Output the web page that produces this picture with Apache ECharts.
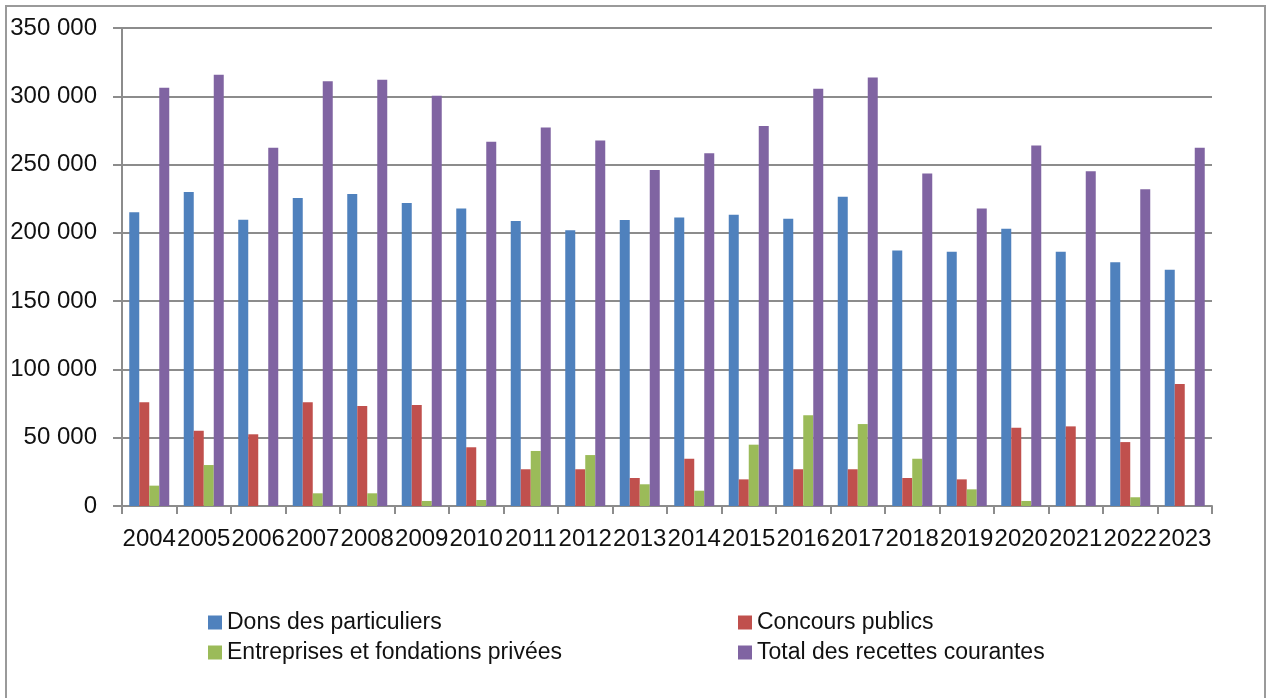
<!DOCTYPE html>
<html>
<head>
<meta charset="utf-8">
<script src="https://cdn.jsdelivr.net/npm/echarts@6/dist/echarts.min.js"></script>
<style>
html,body{margin:0;padding:0;background:#fff;}
#chart{width:1271px;height:698px;}
</style>
</head>
<body>
<div id="chart"></div>
<script>
const years = ['2004','2005','2006','2007','2008','2009','2010','2011','2012','2013','2014','2015','2016','2017','2018','2019','2020','2021','2022','2023'];
const dons = [215000, 230000, 209600, 225500, 228400, 221800, 217900, 208600, 202000, 209400, 211300, 213300, 210300, 226400, 187100, 186200, 203000, 186200, 178400, 173000];
const concours = [75900, 55100, 52500, 75900, 73200, 73900, 43000, 26900, 26900, 20500, 34600, 19500, 26900, 26900, 20500, 19500, 57300, 58300, 46800, 89300];
const entreprises = [14900, 30000, 0, 9300, 9300, 3700, 4400, 40300, 37300, 15900, 11200, 44900, 66400, 60000, 34600, 12200, 3700, 0, 6400, 0];
const total = [306200, 315700, 262300, 311100, 312100, 300400, 266700, 277200, 267700, 246000, 258200, 278200, 305500, 313800, 243500, 217900, 264000, 245200, 232000, 262300];
const seriesNames = ['Dons des particuliers', 'Concours publics', 'Entreprises et fondations privées', 'Total des recettes courantes'];

const FONT = "'Liberation Sans', Arial, sans-serif";
const chart = echarts.init(document.getElementById('chart'), null, {renderer: 'canvas'});

function fmt(v) {
  return String(v).replace(/\B(?=(\d{3})+(?!\d))/g, ' ');
}

const colors = ['#4F81BD', '#C0504D', '#9BBB59', '#8064A2'];
const values = [dons, concours, entreprises, total];

const legendCommon = {
  orient: 'vertical',
  top: 606,
  itemWidth: 14,
  itemHeight: 14,
  itemGap: 7,
  icon: 'rect',
  selectedMode: false,
  textStyle: {fontFamily: FONT, fontSize: 23, color: '#111', lineHeight: 23}
};

chart.setOption({
  animation: false,
  backgroundColor: '#fff',
  color: colors,
  graphic: [{
    type: 'rect',
    shape: {x: 6, y: 6, width: 1259, height: 720},
    style: {fill: 'none', stroke: '#9a9a9a', lineWidth: 2},
    silent: true
  }],
  legend: [
    Object.assign({left: 203, data: [seriesNames[0], seriesNames[2]]}, legendCommon),
    Object.assign({left: 733, data: [seriesNames[1], seriesNames[3]]}, legendCommon)
  ],
  grid: {left: 122, right: 59, top: 28, bottom: 192, containLabel: false},
  xAxis: {
    type: 'category',
    data: years,
    axisLine: {lineStyle: {color: '#8c8c8c', width: 2}},
    axisTick: {show: true, length: 8, lineStyle: {color: '#8c8c8c', width: 2}},
    axisLabel: {interval: 0, margin: 21, fontFamily: FONT, fontSize: 24, color: '#111'},
    splitLine: {show: false}
  },
  yAxis: {
    type: 'value',
    min: 0,
    max: 350000,
    interval: 50000,
    axisLine: {show: true, lineStyle: {color: '#8c8c8c', width: 2}},
    axisTick: {show: true, length: 9, lineStyle: {color: '#8c8c8c', width: 2}},
    axisLabel: {margin: 25, fontFamily: FONT, fontSize: 24, color: '#111', formatter: fmt},
    splitLine: {show: true, lineStyle: {color: '#8c8c8c', width: 2}}
  },
  series: seriesNames.map((name, i) => ({
    name: name,
    type: 'bar',
    data: values[i],
    barWidth: 10,
    barGap: '0%',
    itemStyle: {color: colors[i]}
  }))
});
</script>
</body>
</html>
